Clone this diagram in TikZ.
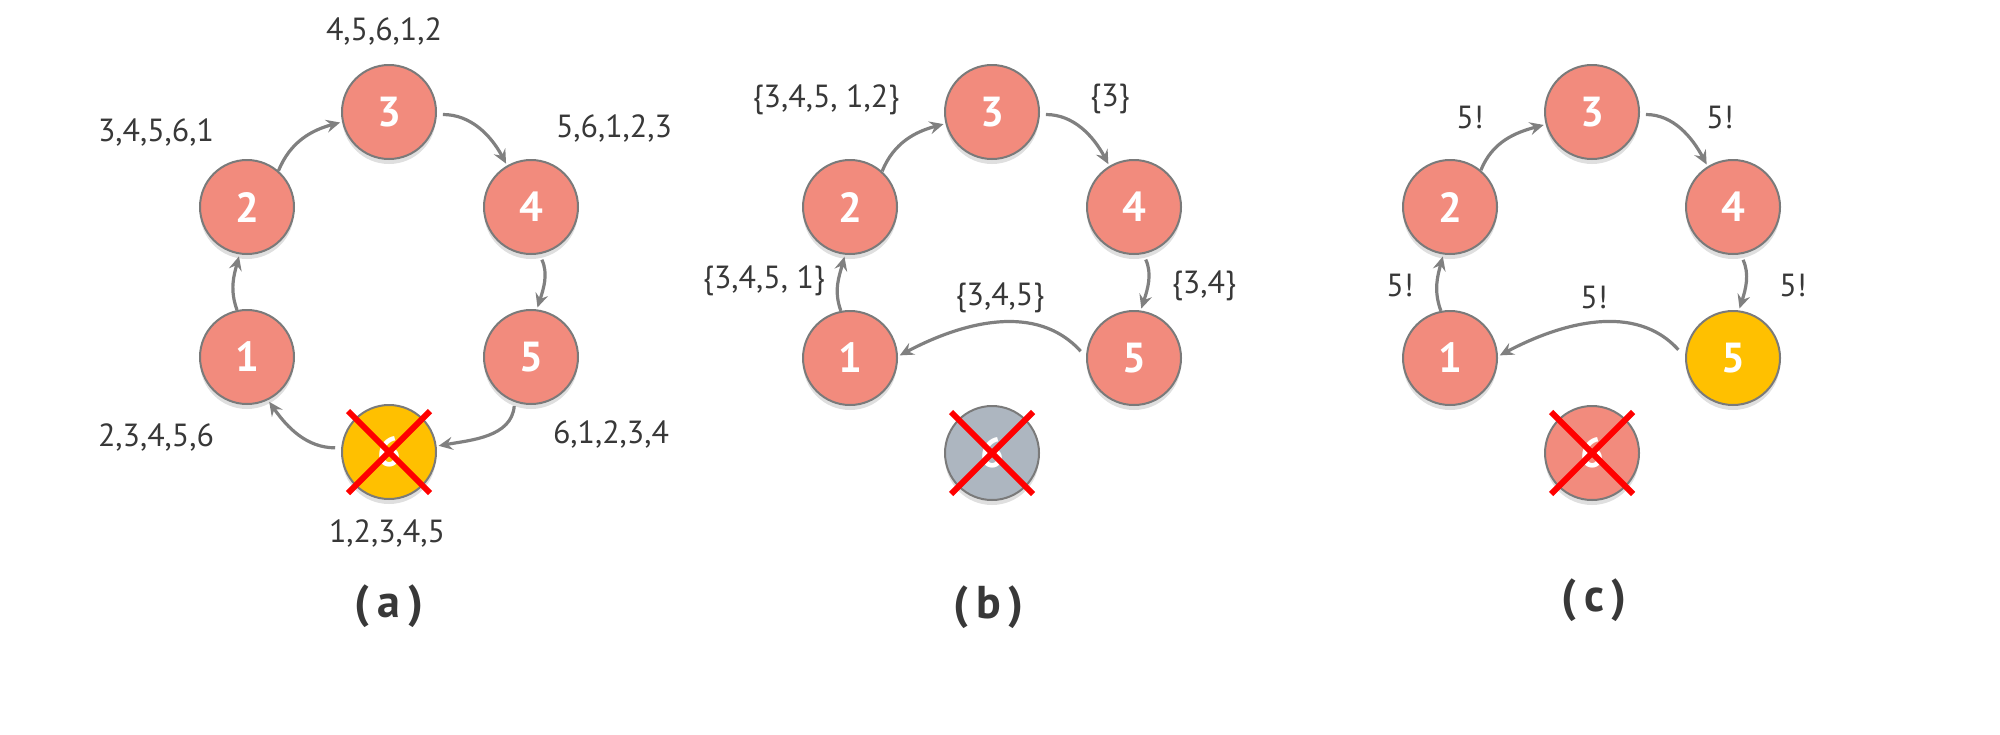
\documentclass[tikz,border=0pt]{standalone}
\usepackage{fontspec}
\setmainfont{PT Sans}
\usetikzlibrary{arrows.meta,shadows}
\definecolor{salmon}{HTML}{F28B7D}
\definecolor{gold}{HTML}{FFC000}
\definecolor{ngray}{HTML}{ADB6C0}
\definecolor{edgegray}{HTML}{7A7A7A}
\definecolor{arrgray}{HTML}{808080}
\definecolor{txt}{HTML}{383838}
\definecolor{xred}{HTML}{FF0000}
\begin{document}
\begin{tikzpicture}[x=0.5pt,y=0.5pt,
  nd/.style={circle, draw=edgegray, line width=1pt, minimum size=47pt, inner sep=0pt,
    text=white, font=\fontsize{21}{24}\selectfont\bfseries,
    drop shadow={shadow xshift=0pt, shadow yshift=-2.5pt, opacity=0.25}},
  pink/.style={nd, fill=salmon},
  yell/.style={nd, fill=gold},
  grey/.style={nd, fill=ngray},
  lbl/.style={text=txt, font=\fontsize{16}{18}\selectfont, inner sep=0pt},
  captxt/.style={text=txt, font=\fontsize{23}{28}\selectfont\bfseries, inner sep=0pt},
  arr/.style={draw=arrgray, line width=1.6pt, -{Stealth[length=7pt,width=6.5pt,inset=2.5pt]}, shorten >=1pt},
  xmark/.style={draw=xred, line width=3pt}
]
\useasboundingbox (0,0) rectangle (2000,-734);

% ---------------- (a) ----------------
\node[pink] (a3) at (389,-112) {3};
\node[pink] (a2) at (247,-207) {2};
\node[pink] (a4) at (531,-207) {4};
\node[pink] (a1) at (247,-357) {1};
\node[pink] (a5) at (531,-357) {5};
\node[yell] (a6) at (389,-452) {6};
\draw[xmark] ([shift={(-41,41)}]a6.center) -- ([shift={(41,-41)}]a6.center);
\draw[xmark] ([shift={(41,41)}]a6.center) -- ([shift={(-41,-41)}]a6.center);

\draw[arr] (a2.49) to[out=68,in=195] (a3.192);
\draw[arr, shorten <=3pt] (a3.-3) to[out=0,in=118] (a4.120);
\draw[arr, shorten <=3pt] (a4.-80) to[out=-65,in=72] (a5.83);
\draw[arr, shorten <=2pt] (a5.-110) to[out=-95,in=10] (a6.7);
\draw[arr, shorten <=3pt] (a6.175) to[out=180,in=-55] (a1.-64);
\draw[arr] (a1.102) to[out=110,in=-105] (a2.-99);

\node[lbl] (la3) at (384,-31) {4,5,6,1,2};
\node[lbl] (la2) at (156,-132) {3,4,5,6,1};
\node[lbl] (la4) at (614,-128) {5,6,1,2,3};
\node[lbl] (la1) at (156,-437) {2,3,4,5,6};
\node[lbl] (la5) at (611,-434) {6,1,2,3,4};
\node[lbl] (la6) at (387,-533) {1,2,3,4,5};
\node[captxt] (capa) at (389,-606) {(\,a\,)};

% ---------------- (b) ----------------
\node[pink] (b3) at (992,-112) {3};
\node[pink] (b2) at (850,-207) {2};
\node[pink] (b4) at (1134,-207) {4};
\node[pink] (b1) at (850,-358) {1};
\node[pink] (b5) at (1134,-358) {5};
\node[grey] (b6) at (992,-453) {6};
\draw[xmark] ([shift={(-41,41)}]b6.center) -- ([shift={(41,-41)}]b6.center);
\draw[xmark] ([shift={(41,41)}]b6.center) -- ([shift={(-41,-41)}]b6.center);

\draw[arr] (b2.48) to[out=68,in=195] (b3.194);
\draw[arr, shorten <=3pt] (b3.-3) to[out=0,in=118] (b4.121);
\draw[arr, shorten <=3pt] (b4.-79) to[out=-65,in=72] (b5.82);
\draw[arr, shorten <=4pt] (b5.179) to[out=132,in=28] (b1.2);
\draw[arr] (b1.101) to[out=110,in=-105] (b2.-96);

\node[lbl] (lb23) at (826,-100) {\{3,4,5, 1,2\}};
\node[lbl] (lb34) at (1110,-99) {\{3\}};
\node[lbl] (lb12) at (764,-281) {\{3,4,5, 1\}};
\node[lbl] (lb51) at (1000,-298) {\{3,4,5\}};
\node[lbl] (lb45) at (1204,-286) {\{3,4\}};
\node[captxt] (capb) at (989,-607) {(\,b\,)};

% ---------------- (c) ----------------
\node[pink] (c3) at (1592,-112) {3};
\node[pink] (c2) at (1450,-207) {2};
\node[pink] (c4) at (1733,-207) {4};
\node[pink] (c1) at (1450,-358) {1};
\node[yell] (c5) at (1733,-358) {5};
\node[pink] (c6) at (1592,-453) {6};
\draw[xmark] ([shift={(-41,41)}]c6.center) -- ([shift={(41,-41)}]c6.center);
\draw[xmark] ([shift={(41,41)}]c6.center) -- ([shift={(-41,-41)}]c6.center);

\draw[arr] (c2.50) to[out=68,in=195] (c3.195);
\draw[arr, shorten <=3pt] (c3.-3) to[out=0,in=118] (c4.122);
\draw[arr, shorten <=3pt] (c4.-81) to[out=-65,in=72] (c5.83);
\draw[arr, shorten <=5pt] (c5.179) to[out=132,in=28] (c1.2);
\draw[arr] (c1.101) to[out=110,in=-105] (c2.-98);

\node[lbl] (lc23) at (1470,-117) {5!};
\node[lbl] (lc34) at (1720,-117) {5!};
\node[lbl] (lc12) at (1400,-285) {5!};
\node[lbl] (lc51) at (1594,-297) {5!};
\node[lbl] (lc45) at (1793,-285) {5!};
\node[captxt] (capc) at (1594,-600) {(\,c\,)};
\end{tikzpicture}
\end{document}
